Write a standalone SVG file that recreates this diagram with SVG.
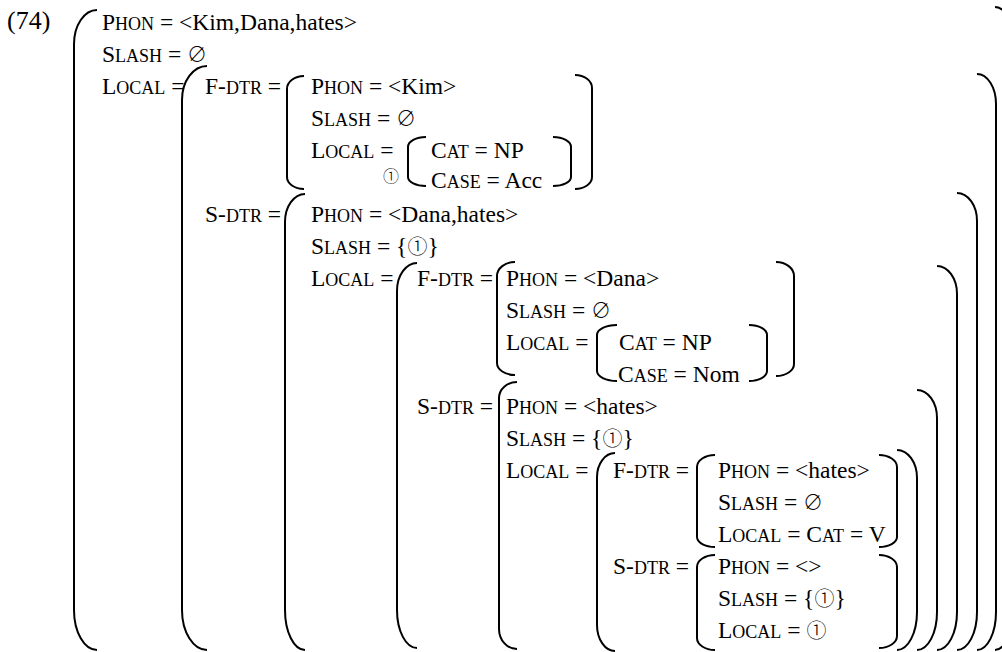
<svg xmlns="http://www.w3.org/2000/svg" width="1002" height="652" viewBox="0 0 1002 652">
  <style>
    text { font-family: "Liberation Serif", "DejaVu Serif", "Noto Sans CJK JP", serif; font-size: 23.5px; fill: #000; }
    .sc { font-size: 18px; }
    .num { font-size: 26px; }
    .sym { font-family: "Noto Sans CJK JP", "DejaVu Sans", sans-serif; font-size: 20px; font-weight: 300; }
    .tag { font-family: "Noto Sans CJK JP", "DejaVu Sans", sans-serif; font-size: 16px; font-weight: 300; }
    .br { fill: none; stroke: #000; stroke-width: 2; }
  </style>
  <rect width="1002" height="652" fill="#fff"/>

  <text class="num" x="7" y="29">(74)</text>

  <!-- outermost structure -->
  <g id="avm-root">
    <path class="br" d="M97,10 A23,34 0 0 0 74,44 L74,610 A23,40 0 0 0 97,650"/>
    <path class="br" d="M995,7 A18,34 0 0 1 1013,41 L1013,610 A18,40 0 0 1 995,650"/>
    <text x="102" y="29.5">P<tspan class="sc">HON</tspan> = &lt;Kim,Dana,hates&gt;</text>
    <text x="102" y="61.5">S<tspan class="sc">LASH</tspan> = <tspan class="sym">∅</tspan></text>
    <text x="102" y="93.5">L<tspan class="sc">OCAL</tspan> =</text>
  </g>

  <!-- root LOCAL value -->
  <g id="avm-local-1">
    <path class="br" d="M207,66 A25,34 0 0 0 182,100 L182,610 A25,40 0 0 0 207,650"/>
    <path class="br" d="M977,74 A19,30 0 0 1 996,104 L996,612 A19,38 0 0 1 977,650"/>
    <text x="205" y="93.5">F-<tspan class="sc">DTR</tspan> =</text>
    <text x="205" y="221.5">S-<tspan class="sc">DTR</tspan> =</text>
  </g>

  <!-- first daughter: Kim -->
  <g id="avm-kim">
    <path class="br" d="M304,76 A17,13 0 0 0 287,89 L287,177 A17,12 0 0 0 304,189"/>
    <path class="br" d="M575,75 A17,13 0 0 1 592,88 L592,177 A17,12 0 0 1 575,189"/>
    <path class="br" d="M426,137 A18,10 0 0 0 408,147 L408,177 A18,9 0 0 0 426,186"/>
    <path class="br" d="M553,137 A18,10 0 0 1 571,147 L571,177 A18,9 0 0 1 553,186"/>
    <text x="311" y="93.5">P<tspan class="sc">HON</tspan> = &lt;Kim&gt;</text>
    <text x="311" y="125.5">S<tspan class="sc">LASH</tspan> = <tspan class="sym">∅</tspan></text>
    <text x="311" y="157.5">L<tspan class="sc">OCAL</tspan> =</text>
    <text x="431" y="157.5">C<tspan class="sc">AT</tspan> = NP</text>
    <text x="431" y="187.5">C<tspan class="sc">ASE</tspan> = Acc</text>
    <text class="tag" x="383" y="182">①</text>
  </g>

  <!-- second daughter: Dana hates -->
  <g id="avm-dana-hates">
    <path class="br" d="M305,194 A20,28 0 0 0 285,222 L285,610 A20,40 0 0 0 305,650"/>
    <path class="br" d="M957,193 A20,28 0 0 1 977,221 L977,612 A20,38 0 0 1 957,650"/>
    <text x="311" y="221.5">P<tspan class="sc">HON</tspan> = &lt;Dana,hates&gt;</text>
    <text x="311" y="253.5">S<tspan class="sc">LASH</tspan> = {<tspan class="sym">①</tspan>}</text>
    <text x="311" y="285.5">L<tspan class="sc">OCAL</tspan> =</text>
  </g>

  <!-- LOCAL of Dana hates -->
  <g id="avm-local-2">
    <path class="br" d="M417,263 A20,28 0 0 0 397,291 L397,610 A20,38 0 0 0 417,648"/>
    <path class="br" d="M937,266 A20,28 0 0 1 957,294 L957,612 A20,38 0 0 1 937,650"/>
    <text x="417" y="285.5">F-<tspan class="sc">DTR</tspan> =</text>
    <text x="417" y="413.5">S-<tspan class="sc">DTR</tspan> =</text>
  </g>

  <!-- first daughter: Dana -->
  <g id="avm-dana">
    <path class="br" d="M515,262 A18,14 0 0 0 497,276 L497,363 A18,12 0 0 0 515,375"/>
    <path class="br" d="M776,262 A18,14 0 0 1 794,276 L794,364 A18,12 0 0 1 776,376"/>
    <path class="br" d="M617,325 A20,10 0 0 0 597,335 L597,371 A20,10 0 0 0 617,381"/>
    <path class="br" d="M749,325 A18,10 0 0 1 767,335 L767,371 A18,10 0 0 1 749,381"/>
    <text x="506" y="285.5">P<tspan class="sc">HON</tspan> = &lt;Dana&gt;</text>
    <text x="506" y="317.5">S<tspan class="sc">LASH</tspan> = <tspan class="sym">∅</tspan></text>
    <text x="506" y="349.5">L<tspan class="sc">OCAL</tspan> =</text>
    <text x="619" y="349.5">C<tspan class="sc">AT</tspan> = NP</text>
    <text x="618" y="381.5">C<tspan class="sc">ASE</tspan> = Nom</text>
  </g>

  <!-- second daughter: hates -->
  <g id="avm-hates">
    <path class="br" d="M517,382 A18,16 0 0 0 499,398 L499,629 A18,20 0 0 0 517,649"/>
    <path class="br" d="M917,390 A20,28 0 0 1 937,418 L937,612 A20,38 0 0 1 917,650"/>
    <text x="506" y="413.5">P<tspan class="sc">HON</tspan> = &lt;hates&gt;</text>
    <text x="506" y="445.5">S<tspan class="sc">LASH</tspan> = {<tspan class="sym">①</tspan>}</text>
    <text x="506" y="477.5">L<tspan class="sc">OCAL</tspan> =</text>
  </g>

  <!-- LOCAL of hates -->
  <g id="avm-local-3">
    <path class="br" d="M615,453 A18,24 0 0 0 597,477 L597,625 A18,26 0 0 0 615,651"/>
    <path class="br" d="M897,450 A20,28 0 0 1 917,478 L917,612 A20,38 0 0 1 897,650"/>
    <text x="613" y="477.5">F-<tspan class="sc">DTR</tspan> =</text>
    <text x="613" y="573.5">S-<tspan class="sc">DTR</tspan> =</text>
  </g>

  <!-- verb daughter -->
  <g id="avm-verb">
    <path class="br" d="M715,455 A18,12 0 0 0 697,467 L697,537 A18,10 0 0 0 715,547"/>
    <path class="br" d="M879,455 A18,12 0 0 1 897,467 L897,537 A18,10 0 0 1 879,547"/>
    <text x="718" y="477.5">P<tspan class="sc">HON</tspan> = &lt;hates&gt;</text>
    <text x="718" y="509.5">S<tspan class="sc">LASH</tspan> = <tspan class="sym">∅</tspan></text>
    <text x="718" y="541.5">L<tspan class="sc">OCAL</tspan> = C<tspan class="sc">AT</tspan> = V</text>
  </g>

  <!-- gap daughter -->
  <g id="avm-gap">
    <path class="br" d="M715,555 A18,12 0 0 0 697,567 L697,638 A18,12 0 0 0 715,650"/>
    <path class="br" d="M879,555 A18,12 0 0 1 897,567 L897,636 A18,12 0 0 1 879,648"/>
    <text x="718" y="573.5">P<tspan class="sc">HON</tspan> = &lt;&gt;</text>
    <text x="718" y="605.5">S<tspan class="sc">LASH</tspan> = {<tspan class="sym">①</tspan>}</text>
    <text x="718" y="637.5">L<tspan class="sc">OCAL</tspan> = <tspan class="sym">①</tspan></text>
  </g>
</svg>
